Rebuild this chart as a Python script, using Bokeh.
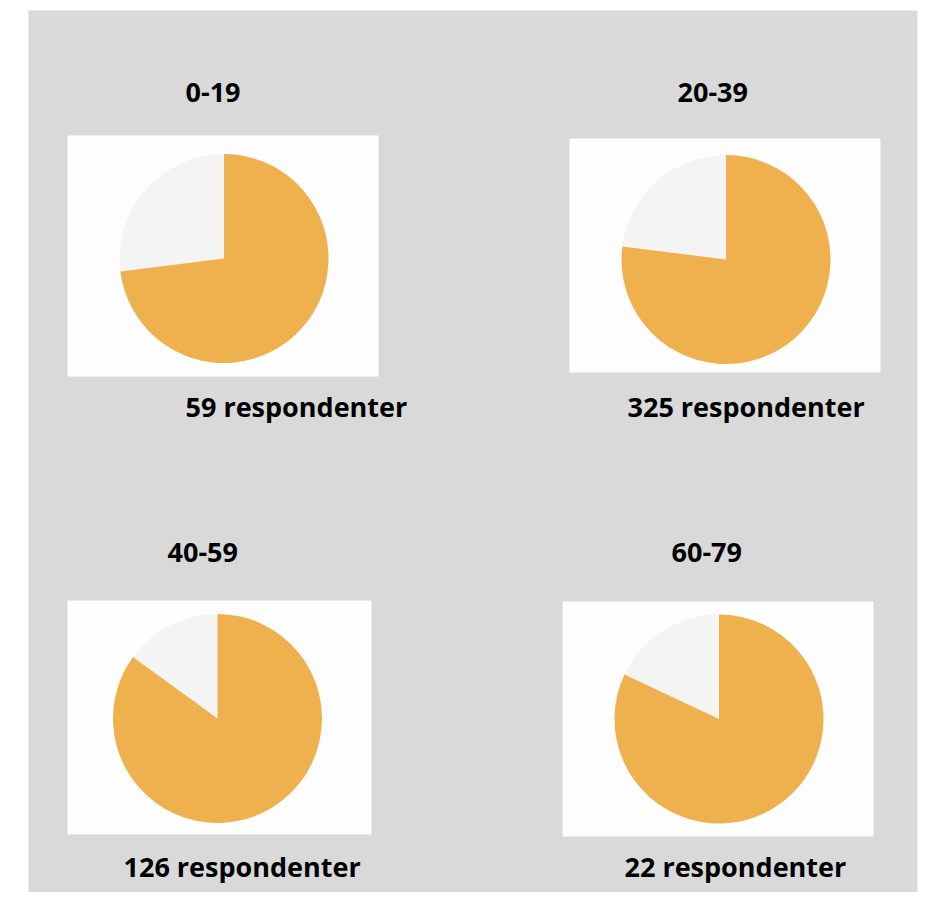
from bokeh.plotting import figure
from bokeh.models import Range1d
from bokeh.core.properties import value
from bokeh.embed import file_html
from bokeh.resources import INLINE
import math

# ---- data ----
groups = ["0-19", "20-39", "40-59", "60-79"]
respondents = [59, 325, 126, 22]
share_yes = [73, 77, 85, 82]      # orange part (%)
share_other = [27, 23, 15, 18]    # light part (%)

# ---- layout (pixels in the 927x900 picture) ----
W, H = 919, 892
def sx(x):
    return x
def sy(y):
    return H - y

boxes = [(67, 378, 135, 376), (569, 880, 138, 372), (67, 371, 600, 834), (562, 873, 601, 836)]
centers = [(223.5, 258), (725.5, 259), (217, 718), (718.5, 718.5)]
radius = 104.5
title_pos = [(185, 92), (677, 92), (167, 552), (671, 552)]
sub_pos = [(185, 406), (627, 406), (123, 866), (624, 866)]

ORANGE = "#EEB14D"
LIGHT = "#F4F4F4"
BOXW = "#FDFDFD"
BG = "#D9D9D9"
FONT = value("Open Sans")

p = figure(width=W, height=H, output_backend="svg", toolbar_location=None,
           x_range=Range1d(0, W), y_range=Range1d(0, H), min_border=0)
p.axis.visible = False
p.grid.visible = False
p.outline_line_color = None
p.background_fill_color = "white"
p.border_fill_color = "white"

# grey panel
p.quad(left=[sx(28)], right=[sx(917)], top=[sy(10)], bottom=[sy(900)],
       fill_color=BG, line_color=None)

for i, g in enumerate(groups):
    l, r, t, b = boxes[i]
    p.quad(left=[sx(l)], right=[sx(r)], top=[sy(t)], bottom=[sy(b)],
           fill_color=BOXW, line_color=None)
    cx, cy = centers[i]
    top = math.radians(90)
    boundary = top + math.radians(share_other[i] / 100 * 360)
    # light wedge: from top counter-clockwise by the "other" share
    p.wedge(x=[sx(cx)], y=[sy(cy)], radius=radius, start_angle=[top], end_angle=[boundary],
            direction="anticlock", fill_color=LIGHT, line_color=None)
    # orange wedge: from top clockwise by the "yes" share
    p.wedge(x=[sx(cx)], y=[sy(cy)], radius=radius, start_angle=[top],
            end_angle=[top - math.radians(share_yes[i] / 100 * 360)],
            direction="clock", fill_color=ORANGE, line_color=None)
    tx, ty = title_pos[i]
    p.text(x=[sx(tx)], y=[sy(ty)], text=[g], text_font=FONT, text_font_style="bold",
           text_font_size="27px", text_align="left", text_baseline="middle",
           text_color="#000000")
    ux, uy = sub_pos[i]
    p.text(x=[sx(ux)], y=[sy(uy)], text=[f"{respondents[i]} respondenter"], text_font=FONT,
           text_font_style="bold", text_font_size="27px", text_align="left",
           text_baseline="middle", text_color="#000000")

open("out.html", "w").write(file_html(p, INLINE))
